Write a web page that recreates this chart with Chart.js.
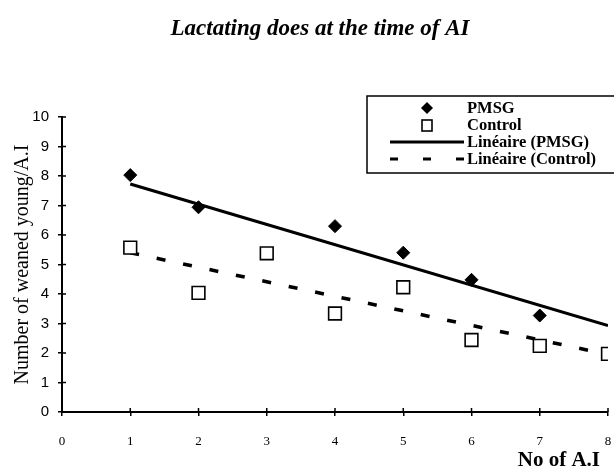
<!DOCTYPE html>
<html>
<head>
<meta charset="utf-8">
<script src="https://cdn.jsdelivr.net/npm/chart.js@4.4.0/dist/chart.umd.min.js"></script>
<style>
  html, body { margin: 0; padding: 0; background: #fff; }
  #wrap { width: 614px; height: 468px; position: relative; }
</style>
</head>
<body>
<div id="wrap"><canvas id="c" width="614" height="468"></canvas></div>
<script>
// values
const titleText = 'Lactating does at the time of AI';
const xTitle = 'No of A.I';
const xTicks = [0, 1, 2, 3, 4, 5, 6, 7, 8];
const pmsgX = [1, 2, 4, 5, 6, 7];
const pmsgY = [8.03, 6.94, 6.3, 5.4, 4.48, 3.27];
const controlX = [1, 2, 3, 4, 5, 6, 7, 8];
const controlY = [5.57, 4.04, 5.38, 3.34, 4.23, 2.44, 2.24, 1.97];
const trendX = [1, 8];
const trendPMSG = [7.73, 2.93];
const trendControl = [5.4, 1.95];

const serif = '"Liberation Serif", "Times New Roman", serif';
const sans = '"Liberation Sans", Arial, sans-serif';

const pts = (xs, ys) => xs.map((x, i) => ({ x, y: ys[i] }));

// title, x title, inner tick marks and framed legend drawn by hand, like the original office chart
const decor = {
    id: 'decor',
    afterDraw(chart) {
        const ctx = chart.ctx;
        const { x: sx, y: sy } = chart.scales;
        const area = chart.chartArea;
        ctx.save();
        ctx.strokeStyle = '#000'; ctx.lineWidth = 1.5;
        ctx.beginPath();
        sx.ticks.forEach(t => { const p = sx.getPixelForValue(t.value); ctx.moveTo(p, area.bottom); ctx.lineTo(p, area.bottom - 4); });
        sy.ticks.forEach(t => { const p = sy.getPixelForValue(t.value); ctx.moveTo(area.left, p); ctx.lineTo(area.left + 4, p); });
        ctx.stroke();

        ctx.fillStyle = '#000';
        ctx.font = 'italic bold 23px ' + serif;
        ctx.textAlign = 'center'; ctx.textBaseline = 'alphabetic';
        ctx.fillText(titleText, 320, 35);

        ctx.font = 'bold 21px ' + serif;
        ctx.textAlign = 'right'; ctx.textBaseline = 'middle';
        ctx.fillText(xTitle, 600, 461);

        // legend box
        const bx = 367, by = 96, bw = 260, bh = 77;
        ctx.lineWidth = 1.5;
        ctx.strokeRect(bx, by, bw, bh);
        ctx.font = 'bold 16.5px ' + serif;
        ctx.textAlign = 'left';
        const rows = [108, 125, 142, 159];
        chart.data.datasets.forEach((ds, i) => {
            const y = rows[i];
            if (ds.showLine) {
                ctx.beginPath();
                ctx.lineWidth = 3.2;
                ctx.setLineDash(ds.borderDash ? [8, 25] : []);
                ctx.moveTo(390, y); ctx.lineTo(464, y); ctx.stroke();
                ctx.setLineDash([]);
            } else if (ds.pointStyle === 'rectRot') {
                ctx.beginPath();
                ctx.moveTo(427, y - 6); ctx.lineTo(433, y); ctx.lineTo(427, y + 6); ctx.lineTo(421, y);
                ctx.closePath(); ctx.fill();
            } else {
                ctx.lineWidth = 1.6;
                ctx.fillStyle = '#fff';
                ctx.fillRect(422, y - 5, 10, 11);
                ctx.strokeRect(422, y - 5, 10, 11);
                ctx.fillStyle = '#000';
            }
            ctx.fillText(ds.label, 467, y + 1);
        });
        ctx.restore();
    }
};

new Chart(document.getElementById('c'), {
    type: 'scatter',
    data: {
        datasets: [
            { label: 'PMSG', data: pts(pmsgX, pmsgY), pointStyle: 'rectRot', pointRadius: 6.5, backgroundColor: '#000', borderColor: '#000', borderWidth: 1 },
            { label: 'Control', data: pts(controlX, controlY), pointStyle: 'rect', pointRadius: 9, backgroundColor: '#fff', borderColor: '#000', borderWidth: 1.6 },
            { label: 'Linéaire (PMSG)', data: pts(trendX, trendPMSG), showLine: true, pointRadius: 0, borderColor: '#000', borderWidth: 3.2 },
            { label: 'Linéaire (Control)', data: pts(trendX, trendControl), showLine: true, pointRadius: 0, borderColor: '#000', borderWidth: 3.5, borderDash: [9, 18] }
        ]
    },
    options: {
        responsive: false,
        animation: false,
        layout: { autoPadding: false, padding: { top: 117, right: 6, left: 0, bottom: 0 } },
        plugins: { legend: { display: false }, tooltip: { enabled: false } },
        scales: {
            x: {
                type: 'linear', min: 0, max: 8,
                afterFit: s => { s.height = 56; s.paddingLeft = 0; s.paddingRight = 0; },
                afterBuildTicks: s => { s.ticks = xTicks.map(v => ({ value: v })); },
                border: { color: '#000', width: 2 },
                grid: { display: true, drawOnChartArea: false, color: '#000', lineWidth: 1.5, tickLength: 4 },
                ticks: { color: '#000', font: { family: serif, size: 13 }, padding: 18, maxRotation: 0 }
            },
            y: {
                min: 0, max: 10,
                afterFit: s => { s.width = 62; s.paddingTop = 0; s.paddingBottom = 0; },
                border: { color: '#000', width: 2 },
                grid: { display: true, drawOnChartArea: false, color: '#000', lineWidth: 1.5, tickLength: 4 },
                ticks: { color: '#000', stepSize: 1, font: { family: sans, size: 15 }, padding: 9 },
                title: { display: true, text: 'Number of weaned young/A.I', color: '#000', font: { family: serif, size: 20 }, padding: { top: 11, bottom: 0 } }
            }
        }
    },
    plugins: [decor]
});
</script>
</body>
</html>
